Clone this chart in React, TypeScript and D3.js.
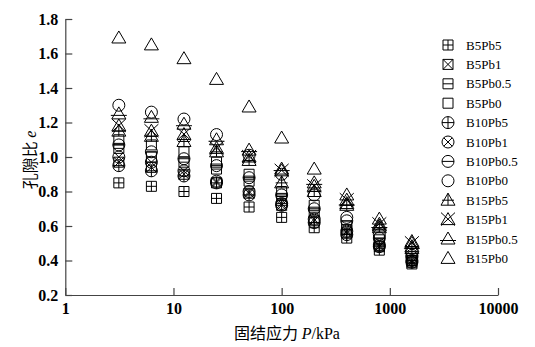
import React, { useEffect, useRef } from 'react';
import * as d3 from 'd3';

const pressures = [3.125, 6.25, 12.5, 25, 50, 100, 200, 400, 800, 1600];

const seriesNames = [
  'B5Pb5', 'B5Pb1', 'B5Pb0.5', 'B5Pb0',
  'B10Pb5', 'B10Pb1', 'B10Pb0.5', 'B10Pb0',
  'B15Pb5', 'B15Pb1', 'B15Pb0.5', 'B15Pb0',
];

const B5Pb5 = [0.85, 0.83, 0.80, 0.76, 0.71, 0.65, 0.59, 0.53, 0.46, 0.38];
const B5Pb1 = [0.97, 0.94, 0.90, 0.85, 0.79, 0.72, 0.63, 0.56, 0.48, 0.39];
const B5Pb05 = [1.05, 1.00, 0.97, 0.93, 0.86, 0.76, 0.68, 0.58, 0.50, 0.40];
const B5Pb0 = [1.10, 1.07, 1.03, 0.97, 0.90, 0.80, 0.72, 0.60, 0.52, 0.41];
const B10Pb5 = [0.95, 0.92, 0.89, 0.85, 0.78, 0.72, 0.62, 0.55, 0.48, 0.39];
const B10Pb1 = [1.00, 0.97, 0.92, 0.86, 0.80, 0.73, 0.64, 0.57, 0.49, 0.40];
const B10Pb05 = [1.07, 1.03, 0.99, 0.95, 0.88, 0.78, 0.70, 0.63, 0.53, 0.42];
const B10Pb0 = [1.30, 1.26, 1.22, 1.13, 1.01, 0.90, 0.78, 0.65, 0.55, 0.43];
const B15Pb5 = [1.15, 1.12, 1.09, 1.03, 0.98, 0.85, 0.80, 0.72, 0.59, 0.47];
const B15Pb1 = [1.18, 1.15, 1.13, 1.05, 1.00, 0.92, 0.83, 0.75, 0.61, 0.50];
const B15Pb05 = [1.25, 1.23, 1.19, 1.10, 1.04, 0.93, 0.85, 0.73, 0.60, 0.48];
const B15Pb0 = [1.69, 1.65, 1.57, 1.45, 1.29, 1.11, 0.93, 0.78, 0.64, 0.51];

const seriesValues = [
  B5Pb5, B5Pb1, B5Pb05, B5Pb0,
  B10Pb5, B10Pb1, B10Pb05, B10Pb0,
  B15Pb5, B15Pb1, B15Pb05, B15Pb0,
];

const xTicks = [1, 10, 100, 1000, 10000];
const yTicks = [0.2, 0.4, 0.6, 0.8, 1.0, 1.2, 1.4, 1.6, 1.8];

// shape: square / circle / triangle, inner: plus / cross / minus / none
const shapes = ['square', 'circle', 'triangle'];
const inners = ['plus', 'cross', 'minus', 'none'];

function markerPath(shape: string, inner: string) {
  const p = d3.path();
  if (shape === 'square') {
    const h = 5;
    p.rect(-h, -h, 2 * h, 2 * h);
    if (inner === 'plus') { p.moveTo(0, -h); p.lineTo(0, h); p.moveTo(-h, 0); p.lineTo(h, 0); }
    if (inner === 'cross') { p.moveTo(-h, -h); p.lineTo(h, h); p.moveTo(h, -h); p.lineTo(-h, h); }
    if (inner === 'minus') { p.moveTo(-h, 0); p.lineTo(h, 0); }
  } else if (shape === 'circle') {
    const r = 6;
    p.moveTo(r, 0);
    p.arc(0, 0, r, 0, Math.PI * 2);
    const d = r * Math.SQRT1_2;
    if (inner === 'plus') { p.moveTo(0, -r); p.lineTo(0, r); p.moveTo(-r, 0); p.lineTo(r, 0); }
    if (inner === 'cross') { p.moveTo(-d, -d); p.lineTo(d, d); p.moveTo(d, -d); p.lineTo(-d, d); }
    if (inner === 'minus') { p.moveTo(-r, 0); p.lineTo(r, 0); }
  } else {
    const w = 7, top = -7, bot = 5;
    p.moveTo(0, top); p.lineTo(w, bot); p.lineTo(-w, bot); p.closePath();
    if (inner === 'plus') { p.moveTo(0, top); p.lineTo(0, bot); p.moveTo(-6, 0); p.lineTo(6, 0); }
    if (inner === 'cross') { p.moveTo(-7, -7); p.lineTo(7, 6); p.moveTo(7, -7); p.lineTo(-7, 6); }
    if (inner === 'minus') { p.moveTo(-8, 1.5); p.lineTo(8, 1.5); }
  }
  return p.toString();
}

const App = () => {
  const svgRef = useRef<SVGSVGElement>(null);

  useEffect(() => {
    const svg = d3.select(svgRef.current);
    svg.selectAll('*').remove();

    const x = d3.scaleLog().domain([1, 10000]).range([65.3, 498]);
    const y = d3.scaleLinear().domain([0.2, 1.8]).range([295, 19]);

    const serif = '"Liberation Serif", "Times New Roman", serif';

    // points
    seriesNames.forEach((name, i) => {
      const d = markerPath(shapes[Math.floor(i / 4)], inners[i % 4]);
      svg.append('g')
        .attr('class', 'series')
        .selectAll('path')
        .data(seriesValues[i])
        .enter()
        .append('path')
        .attr('d', d)
        .attr('transform', (v, j) => `translate(${x(pressures[j])},${y(v)})`)
        .attr('fill', 'none')
        .attr('stroke', '#000')
        .attr('stroke-width', 1);
    });

    // axes
    const yAxis = svg.append('g')
      .attr('transform', 'translate(65.3,0)')
      .call(d3.axisLeft(y).tickValues(yTicks).tickFormat(d3.format('.1f'))
        .tickSizeInner(-7).tickSizeOuter(0).tickPadding(7));

    const xAxis = svg.append('g')
      .attr('transform', 'translate(0,295)')
      .call(d3.axisBottom(x).tickValues(xTicks).tickFormat(d3.format('d'))
        .tickSizeInner(-7).tickSizeOuter(0).tickPadding(8));

    [yAxis, xAxis].forEach(a => {
      a.select('.domain').attr('stroke', '#444').attr('stroke-width', 1.2);
      a.selectAll('.tick line').attr('stroke', '#444').attr('stroke-width', 1.2);
      a.selectAll('.tick text')
        .style('font-family', serif)
        .style('font-size', '16px')
        .style('font-weight', 'bold')
        .attr('fill', '#000');
    });

    // legend
    const legend = svg.append('g').attr('transform', 'translate(448,45)');
    seriesNames.forEach((name, i) => {
      const row = legend.append('g').attr('transform', `translate(0,${i * 19.4})`);
      row.append('path')
        .attr('d', markerPath(shapes[Math.floor(i / 4)], inners[i % 4]))
        .attr('fill', 'none')
        .attr('stroke', '#000')
        .attr('stroke-width', 1);
      row.append('text')
        .attr('x', 18)
        .attr('y', 0)
        .attr('dy', '0.35em')
        .style('font-family', serif)
        .style('font-size', '13px')
        .text(name);
    });

    // axis titles
    const xt = svg.append('text')
      .attr('x', 287)
      .attr('y', 339)
      .attr('text-anchor', 'middle')
      .style('font-size', '16px');
    xt.append('tspan').style('font-family', '"Noto Sans CJK SC"').text('固结应力 ');
    xt.append('tspan').style('font-family', serif).style('font-style', 'italic').text('P');
    xt.append('tspan').style('font-family', serif).text('/kPa');

    const yt = svg.append('text')
      .attr('transform', 'translate(36,160) rotate(-90)')
      .attr('text-anchor', 'middle')
      .style('font-size', '16px');
    yt.append('tspan').style('font-family', '"Noto Sans CJK SC"').text('孔隙比 ');
    yt.append('tspan').style('font-family', serif).style('font-style', 'italic').text('e');
  }, []);

  return (
    <svg ref={svgRef} width={535} height={347}
      style={{ position: 'absolute', left: 0, top: 0, background: '#fff' }} />
  );
};

export default App;
